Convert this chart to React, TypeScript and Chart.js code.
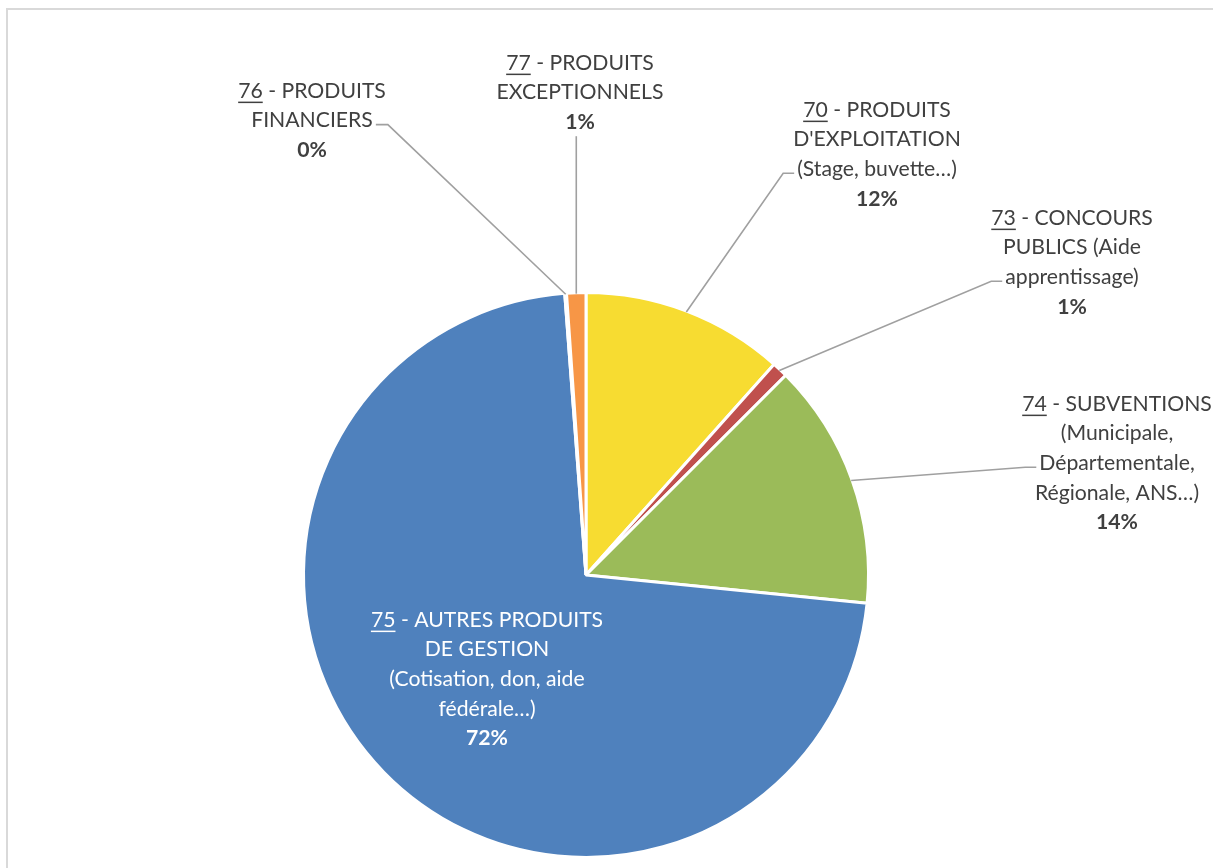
import React, { useEffect, useRef } from "react";
import { Chart, registerables } from "chart.js";

Chart.register(...registerables);

// ---- Data ----
const codes = ["70", "73", "74", "75", "76", "77"];
const firstLineRest = [" - PRODUITS", " - CONCOURS", " - SUBVENTIONS", " - AUTRES PRODUITS", " - PRODUITS", " - PRODUITS"];
const extraLines: string[][] = [
  ["D'EXPLOITATION", "(Stage, buvette…)"],
  ["PUBLICS (Aide", "apprentissage)"],
  ["(Municipale,", "Départementale,", "Régionale, ANS…)"],
  ["DE GESTION", "(Cotisation, don, aide", "fédérale…)"],
  ["FINANCIERS"],
  ["EXCEPTIONNELS"],
];
const values = [11.6, 0.9, 14.1, 72.2, 0.1, 1.1];
const colors = ["#F7DC31", "#C0504D", "#9BBB59", "#4F81BD", "#8064A2", "#F79646"];

// ---- Label layout (text block placement, not marks) ----
type Layout = { cx: number; y0: number; attach: "left" | "right" | "bottom" | "none"; line: number; color: string };
const layout: Layout[] = [
  { cx: 877, y0: 110, attach: "left", line: 2, color: "#404040" },
  { cx: 1072, y0: 218, attach: "left", line: 2, color: "#404040" },
  { cx: 1117, y0: 404, attach: "left", line: 2, color: "#404040" },
  { cx: 487, y0: 620, attach: "none", line: 0, color: "#FFFFFF" },
  { cx: 312, y0: 91, attach: "right", line: 1, color: "#404040" },
  { cx: 580, y0: 63, attach: "bottom", line: 0, color: "#404040" },
];

const FONT_FAMILY = "Lato, 'Open Sans', sans-serif";
const FONT_SIZE = 21.2;
const LINE_H = 29.6;

const framePlugin = {
  id: "frame",
  beforeDraw(chart: any) {
    const ctx = chart.ctx;
    ctx.save();
    ctx.fillStyle = "#FFFFFF";
    ctx.fillRect(0, 0, chart.width, chart.height);
    ctx.strokeStyle = "#D9D9D9";
    ctx.lineWidth = 2;
    ctx.strokeRect(7, 9, chart.width + 20, chart.height + 20);
    ctx.restore();
  },
};

const labelPlugin = {
  id: "pieLabels",
  afterDatasetsDraw(chart: any) {
    const ctx: CanvasRenderingContext2D = chart.ctx;
    const meta = chart.getDatasetMeta(0);
    const data: number[] = chart.data.datasets[0].data;
    const total = data.reduce((a, b) => a + b, 0);
    ctx.save();
    meta.data.forEach((arc: any, i: number) => {
      const p = arc.getProps(["x", "y", "startAngle", "endAngle", "outerRadius"], true);
      const mid = (p.startAngle + p.endAngle) / 2;
      const px = p.x + Math.cos(mid) * (p.outerRadius - 1);
      const py = p.y + Math.sin(mid) * (p.outerRadius - 1);
      const L = layout[i];
      const normal = `${FONT_SIZE}px ${FONT_FAMILY}`;
      const bold = `bold ${FONT_SIZE}px ${FONT_FAMILY}`;
      ctx.font = normal;
      const codeW = ctx.measureText(codes[i]).width;
      const restW = ctx.measureText(firstLineRest[i]).width;
      const widths = [codeW + restW, ...extraLines[i].map((s) => ctx.measureText(s).width)];
      const nLines = widths.length + 1;

      // leader line
      ctx.strokeStyle = "#A0A0A0";
      ctx.lineWidth = 1.6;
      if (L.attach === "left" || L.attach === "right") {
        const ly = L.y0 + L.line * LINE_H + 4;
        const w = widths[L.line];
        const ax = L.attach === "left" ? L.cx - w / 2 - 3 : L.cx + w / 2 + 3;
        const ex = L.attach === "left" ? ax - 11 : ax + 12;
        ctx.beginPath();
        ctx.moveTo(px, py);
        ctx.lineTo(ex, ly);
        ctx.lineTo(ax, ly);
        ctx.stroke();
      } else if (L.attach === "bottom") {
        const by = L.y0 + (nLines - 1) * LINE_H + 14;
        ctx.beginPath();
        ctx.moveTo(px, py);
        ctx.lineTo(px, by);
        ctx.stroke();
      }

      // text
      ctx.fillStyle = L.color;
      ctx.textBaseline = "middle";
      ctx.textAlign = "left";
      const sx = L.cx - widths[0] / 2;
      ctx.fillText(codes[i], sx, L.y0);
      ctx.fillText(firstLineRest[i], sx + codeW, L.y0);
      ctx.fillRect(sx, L.y0 + FONT_SIZE * 0.5, codeW, 1.5);
      ctx.textAlign = "center";
      extraLines[i].forEach((s, k) => ctx.fillText(s, L.cx, L.y0 + (k + 1) * LINE_H));
      ctx.font = bold;
      const pct = Math.round((data[i] / total) * 100) + "%";
      ctx.fillText(pct, L.cx, L.y0 + (nLines - 1) * LINE_H);
    });
    ctx.restore();
  },
};

export default function App() {
  const ref = useRef<HTMLCanvasElement | null>(null);
  useEffect(() => {
    if (!ref.current) return;
    const chart = new Chart(ref.current, {
      type: "pie",
      data: {
        labels: codes,
        datasets: [
          {
            data: values,
            backgroundColor: colors,
            borderColor: "#FFFFFF",
            borderWidth: 3,
            hoverBorderWidth: 3,
            hoverOffset: 0,
          },
        ],
      },
      options: {
        animation: false,
        responsive: false,
        devicePixelRatio: 1,
        events: [],
        layout: { padding: { left: 302, right: 343, top: 291, bottom: 9 } },
        plugins: {
          legend: { display: false },
          tooltip: { enabled: false },
        },
      },
      plugins: [framePlugin, labelPlugin],
    });
    return () => chart.destroy();
  }, []);
  return (
    <div style={{ position: "absolute", left: 0, top: 0, width: 1213, height: 868 }}>
      <canvas ref={ref} width={1213} height={868} style={{ display: "block" }} />
    </div>
  );
}
